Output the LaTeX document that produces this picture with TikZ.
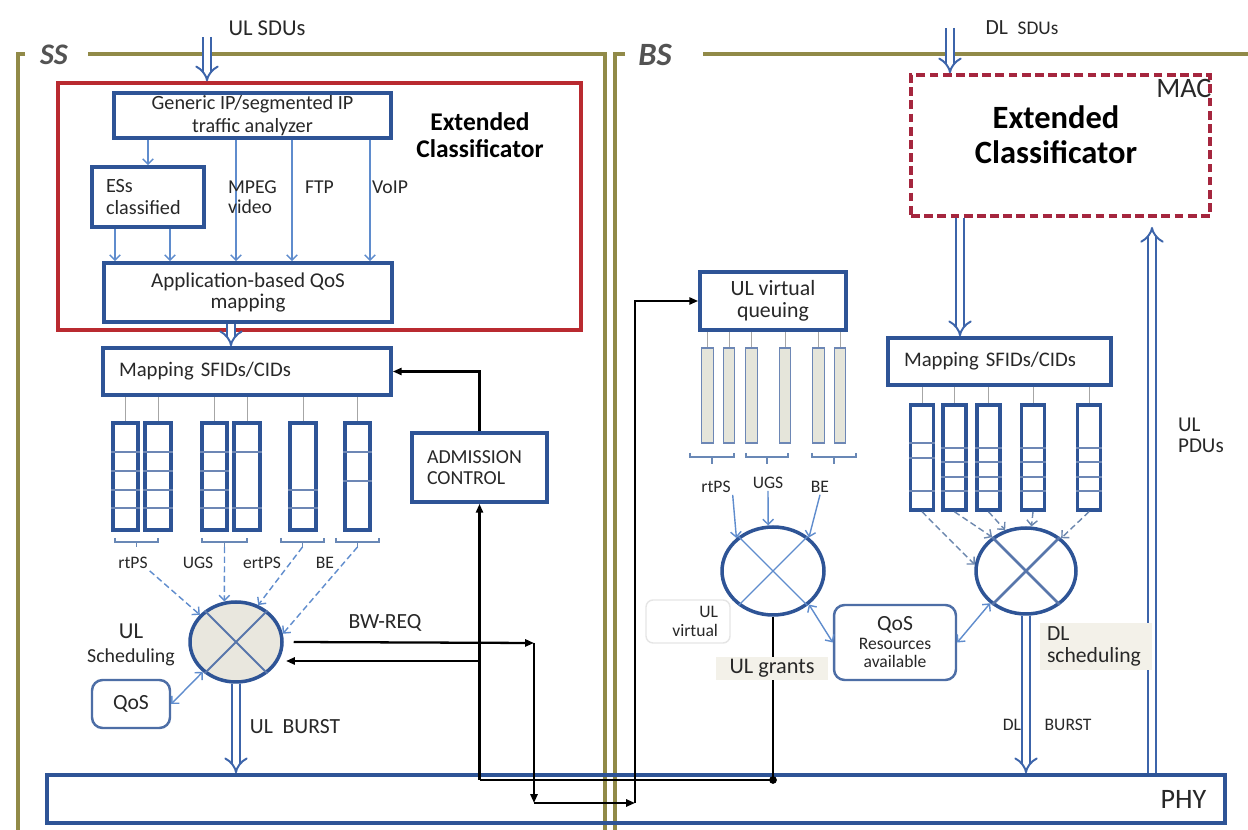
\documentclass[tikz,border=0pt]{standalone}
\usepackage{fontspec}
\setmainfont{Carlito}
\usetikzlibrary{arrows.meta, positioning, shapes.geometric}
\definecolor{boxblue}{RGB}{46,84,150}
\definecolor{pipeblue}{RGB}{60,100,170}
\definecolor{lineblue}{RGB}{95,140,205}
\definecolor{frameolive}{RGB}{145,138,72}
\definecolor{clsred}{RGB}{185,42,48}
\definecolor{macred}{RGB}{165,38,62}
\definecolor{schedgray}{RGB}{233,231,222}
\definecolor{tagfill}{RGB}{243,241,233}
\definecolor{queuegray}{RGB}{229,229,218}
\definecolor{ink}{RGB}{40,40,40}

\begin{document}
\begin{tikzpicture}[x=0.02cm, y=-0.02cm, >={Triangle[length=5pt, width=4pt]}]
    \tikzset{box/.style={draw=boxblue, line width=2.1pt, inner sep=0pt, align=center, text=ink, font=\fontsize{11.5}{13}\selectfont},
        rbox/.style={box, line width=1.4pt, draw=boxblue!85, rounded corners=6pt},
        queue/.style={draw=boxblue, line width=2pt, inner sep=0pt, minimum width=0.51cm, minimum height=2.14cm},
        vqueue/.style={draw=boxblue!70, line width=0.7pt, fill=queuegray, inner sep=0pt, minimum width=0.23cm, minimum height=1.9cm},
        sched/.style={ellipse, draw=boxblue, line width=2pt, inner sep=0pt},
        cross/.style={draw=boxblue!80, line width=1.2pt},
        tag/.style={text=ink, inner sep=1pt, font=\fontsize{10}{10.5}\selectfont},
        word/.style={text=ink, inner sep=1pt, font=\fontsize{12.3}{12.6}\selectfont},
        head/.style={text=black, align=center, font=\bfseries\fontsize{14.5}{15}\selectfont},
        side/.style={text=ink!80, font=\bfseries\itshape\fontsize{17}{17}\selectfont},
        frame/.style={draw=frameolive, line width=2.2pt},
        pipe/.style={draw=pipeblue, double=white, double distance=3.5pt, line width=1.1pt, -{Implies}},
        flow/.style={draw=lineblue, line width=0.8pt, -{Straight Barb[length=3pt]}},
        dflow/.style={flow, dash pattern=on 3.5pt off 2pt},
        twoway/.style={flow, {Straight Barb[length=3pt]}-{Straight Barb[length=3pt]}},
        feed/.style={draw=gray!70, line width=0.5pt},
        divider/.style={draw=boxblue!70, line width=0.6pt},
        brace/.style={draw=lineblue!70!gray, line width=0.6pt},
        ctrl/.style={draw=black, line width=1.3pt, ->}
    }

    \fill [white] (0,0) rectangle (1248,830);
    \useasboundingbox (0,0) rectangle (1248,830);

    % station frames
    \draw [frame] (25,54) -- (18,54) -- (18,830);
    \draw [frame] (88,54) -- (605,54) -- (605,830);
    \draw [frame] (625,54) -- (615,54) -- (615,830);
    \draw [frame] (703,54) -- (1248,54);
    \node (ss) [side] at (54,55) {SS};
    \node (bs) [side, font=\bfseries\itshape\fontsize{18.5}{18.5}\selectfont] at (655,55) {BS};

    \node (phy) [box, minimum width=23.56cm, minimum height=0.96cm] at (636,799) {};
    \node (phyT) [left=0.4cm of phy.east, inner sep=0pt, text=ink, font=\fontsize{16}{16}\selectfont] {PHY};

    % SS extended classificator
    \node (ulcls) [draw=clsred, line width=2pt, minimum width=10.46cm, minimum height=4.94cm] at (319.5,206.5) {};
    \node (ulclsT) [head] at (480,135) {Extended\\Classificator};
    \node (gen) [box, minimum width=5.54cm, minimum height=0.9cm] at (252.5,115.5) {Generic IP/segmented IP\\traffic analyzer};
    \node (ess) [box, minimum width=2.24cm, minimum height=1.2cm, text width=1.68cm, align=left] at (148,197) {ESs\\classified};
    \node (app) [box, minimum width=5.76cm, minimum height=1.18cm, font=\fontsize{12}{12.5}\selectfont] at (248,292.5) {Application-based QoS\\mapping};
    \node (ulsdu) [word, font=\fontsize{12.9}{13}\selectfont] at (267,28) {UL SDUs};
    \coordinate (ulsduTop) at (207,37);
    \draw [pipe] (ulsduTop) -- (ulsduTop |- ulcls.north);

    \draw [flow] (gen.south -| ess.north) -- (ess.north);
    \foreach \x in {236, 292, 370}
        \draw [flow] (gen.south -| \x,0) -- (app.north -| \x,0);
    \foreach \x in {115, 170}
        \draw [flow] (ess.south -| \x,0) -- (app.north -| \x,0);
    \node (mpeg) [tag, anchor=west, align=left, font=\fontsize{11.2}{11.5}\selectfont] at (226,197) {MPEG\\video};
    \node (ftp) [tag, anchor=west, font=\fontsize{11.2}{11.5}\selectfont] at (303,187) {FTP};
    \node (voip) [tag, anchor=west, font=\fontsize{11.2}{11.5}\selectfont] at (370,187) {VoIP};

    % SS mapping and queues
    \node (mapUL) [box, minimum width=5.76cm, minimum height=0.94cm, text width=5.12cm, align=left, font=\fontsize{11.8}{12}\selectfont] at (247,371.5) {Mapping SFIDs/CIDs};
    \draw [pipe] (app.south -| 231,0) -- (mapUL.north -| 231,0);
    \foreach \n/\x/\divs in {1/125.5/{452,471,490,508}, 2/158/{452,471,490,508}, 3/214.5/{452,471,490,508}, 4/247/{452,508}, 5/303/{490,508}, 6/357.5/{452,481}} {
        \node (qul\n) [queue] at (\x,476.5) {};
        \draw [feed] (mapUL.south -| qul\n) -- (qul\n.north);
        \foreach \d in \divs
            \draw [divider] (qul\n.west |- 0,\d) -- (qul\n.east |- 0,\d);
    }
    \foreach \n/\a/\b in {1/115/158, 2/202/247, 3/281/324, 4/336/379} {
        \draw [brace] (\a,538) -- (\a,542) -- (\b,542) -- (\b,538);
        \coordinate (brUL\n) at ({(\a+\b)/2},547);
        \draw [brace] ({(\a+\b)/2},542) -- (brUL\n);
    }
    \node (tUL1) [tag] at (133,563) {rtPS};
    \node (tUL2) [tag] at (198,563) {UGS};
    \node (tUL3) [tag] at (262,563) {ertPS};
    \node (tUL4) [tag] at (325,563) {BE};

    % UL scheduler
    \node (schedUL) [sched, fill=schedgray, minimum width=1.84cm, minimum height=1.6cm] at (236,642) {};
    \draw [cross] (schedUL.45) -- (schedUL.225) (schedUL.135) -- (schedUL.315);
    \draw [dflow] (tUL1.south east) -- (schedUL.143);
    \draw [dflow] (brUL2) -- (schedUL.106);
    \draw [dflow] (brUL3) -- (schedUL.59);
    \draw [dflow] (brUL4) -- (schedUL.10);
    \node (ulschedT) [tag, align=center, font=\fontsize{11.3}{13.6}\selectfont] at (131,645) {{\fontsize{13}{13}\selectfont UL}\\Scheduling};
    \node (qosUL) [rbox, minimum width=1.56cm, minimum height=0.96cm, font=\fontsize{12.3}{13}\selectfont] at (131,704) {QoS};
    \draw [twoway] (qosUL.east) -- (schedUL.222);
    \node (ulburst) [word] at (295,727) {UL\ \ BURST};
    \draw [pipe] (schedUL.south) -- (schedUL.south |- phy.north);

    % admission control
    \node (ac) [box, minimum width=2.7cm, minimum height=1.38cm, text width=2.1cm, align=left, font=\fontsize{11.3}{12}\selectfont] at (479.5,467.5) {ADMISSION\\CONTROL};
    \draw [ctrl] (ac.north) |- (mapUL.east);
    \node (bwreq) [word] at (385,623) {BW-REQ};

    % BS extended classificator
    \node (dlcls) [draw=macred, line width=2pt, dash pattern=on 5pt off 2.5pt, minimum width=5.98cm, minimum height=2.82cm] at (1060.5,145.5) {};
    \node (dlclsT) [head, font=\bfseries\fontsize{18.5}{20}\selectfont] at (1056,134.5) {Extended\\Classificator};
    \node (mac) [below left=0.12cm and 0cm of dlcls.north east, inner sep=0pt, text=ink, font=\fontsize{16}{16}\selectfont] {MAC};
    \node (dlsdu) [word] at (1022,28) {DL\ \ {\fontsize{11}{11}\selectfont SDUs}};
    \coordinate (dlsduTop) at (950,28);
    \draw [pipe] (dlsduTop) -- (dlsduTop |- dlcls.north);
    \node (mapDL) [box, minimum width=4.46cm, minimum height=0.94cm, text width=3.82cm, align=left, font=\fontsize{11.8}{12}\selectfont] at (999.5,361.5) {Mapping SFIDs/CIDs};
    \draw [pipe] (dlcls.south -| 960,0) -- (mapDL.north -| 960,0);
    \coordinate (pduTop) at (1152,227);
    \draw [pipe] (phy.north -| pduTop) -- (pduTop);
    \node (pdu) [word, anchor=west, align=left, font=\fontsize{12}{12}\selectfont] at (1176,435) {UL\\PDUs};

    % UL virtual queuing
    \node (ulvq) [box, minimum width=2.92cm, minimum height=1.16cm, font=\fontsize{12.4}{12.5}\selectfont] at (773,301) {UL virtual\\queuing};
    \foreach \n/\x in {1/707.5, 2/729, 3/751.5, 4/785, 5/818.5, 6/840} {
        \node (qv\n) [vqueue] at (\x,395.5) {};
        \draw [feed] (ulvq.south -| qv\n) -- (qv\n.north);
    }
    \foreach \n/\a/\b in {1/690/734, 2/746/788, 3/812/856} {
        \draw [brace] (\a,453) -- (\a,457) -- (\b,457) -- (\b,453);
        \coordinate (brV\n) at ({(\a+\b)/2},464);
        \draw [brace] ({(\a+\b)/2},457) -- (brV\n);
    }
    \node (tV1) [tag] at (716,487) {rtPS};
    \node (tV2) [tag] at (768,483) {UGS};
    \node (tV3) [tag] at (820,487) {BE};
    \node (schedV) [sched, fill=white, minimum width=2.04cm, minimum height=1.76cm] at (773,571) {};
    \draw [cross, line width=0.7pt, draw=lineblue] (schedV.45) -- (schedV.225) (schedV.135) -- (schedV.315);
    \draw [flow] (tV1.south east) -- (schedV.138);
    \draw [flow] (tV2.south) -- (schedV.96);
    \draw [flow] (tV3.south) -- (schedV.43);
    \node (ulvlbl) [tag, draw=gray!20, line width=0.8pt, rounded corners=4pt, inner sep=0pt, minimum width=1.68cm, minimum height=0.86cm, text width=1.2cm, align=right] at (688,621.5) {UL\\virtual};

    % DL mapping and scheduling
    \foreach \n/\x/\divs in {1/922/{443,458,491}, 2/954.5/{448,462,477,491}, 3/988.5/{448,462,477,491}, 4/1033/{448,462,477,491}, 5/1089/{448,462,477,491}} {
        \node (qdl\n) [queue, minimum width=0.46cm, minimum height=2.1cm] at (\x,457.5) {};
        \draw [feed] (mapDL.south -| qdl\n) -- (qdl\n.north);
        \foreach \d in \divs
            \draw [divider] (qdl\n.west |- 0,\d) -- (qdl\n.east |- 0,\d);
    }
    \node (schedDL) [sched, fill=white, minimum width=2cm, minimum height=1.72cm] at (1026,571) {};
    \draw [cross, line width=1.5pt] (schedDL.45) -- (schedDL.225) (schedDL.135) -- (schedDL.315);
    \foreach \n/\a in {1/173, 2/135, 3/117, 4/83, 5/43}
        \draw [dflow, draw=lineblue!60!gray] (qdl\n.south) -- (schedDL.\a);
    \draw [pipe] (schedDL.south) -- (schedDL.south |- phy.north);
    \node (dlsched) [word, fill=tagfill, inner sep=0pt, minimum width=2.24cm, minimum height=0.94cm, text width=1.96cm, align=left] at (1096,646.5) {DL\\scheduling};
    \node (dlb1) [tag] at (1012,725) {DL};
    \node (dlb2) [tag] at (1068,725) {BURST};

    % QoS resources
    \node (qosRes) [rbox, minimum width=2.44cm, minimum height=1.5cm, font=\fontsize{10}{10.5}\selectfont] at (895,642.5) {{\fontsize{12.3}{13}\selectfont QoS}\\Resources\\available};
    \draw [twoway] (schedV.317) -- (qosRes.west);
    \draw [twoway] (schedDL.222) -- (qosRes.east);

    % bandwidth requests and grants
    \coordinate (bwOut) at ([xshift=0.2cm]schedUL.east);
    \coordinate (bwA) at (534,643);
    \coordinate (bwB) at (534,803);
    \coordinate (bwC) at (635,803);
    \draw [ctrl] (bwOut) -- (bwA);
    \draw [ctrl] (bwA) -- (bwB);
    \draw [ctrl] (bwB) -- (bwC);
    \draw [ctrl] (bwC) |- (ulvq.west);
    \coordinate (gA) at (schedV.south |- 0,780);
    \coordinate (gB) at (ac.south |- gA);
    \coordinate (gC) at (ac.south |- 0,661);
    \coordinate (bwIn) at (286,661);
    \draw [ctrl, -] (schedV.south) -- (gA) -- (gB);
    \draw [ctrl] (gB) -- (ac.south);
    \draw [ctrl] (gC) -- (bwIn);
    \fill (gA) circle (2.2pt);
    \node (grants) [word, fill=tagfill, inner sep=0pt, minimum width=2.24cm, minimum height=0.46cm, font=\fontsize{12.7}{13}\selectfont] at (772,668.5) {UL grants};
\end{tikzpicture}
\end{document}
